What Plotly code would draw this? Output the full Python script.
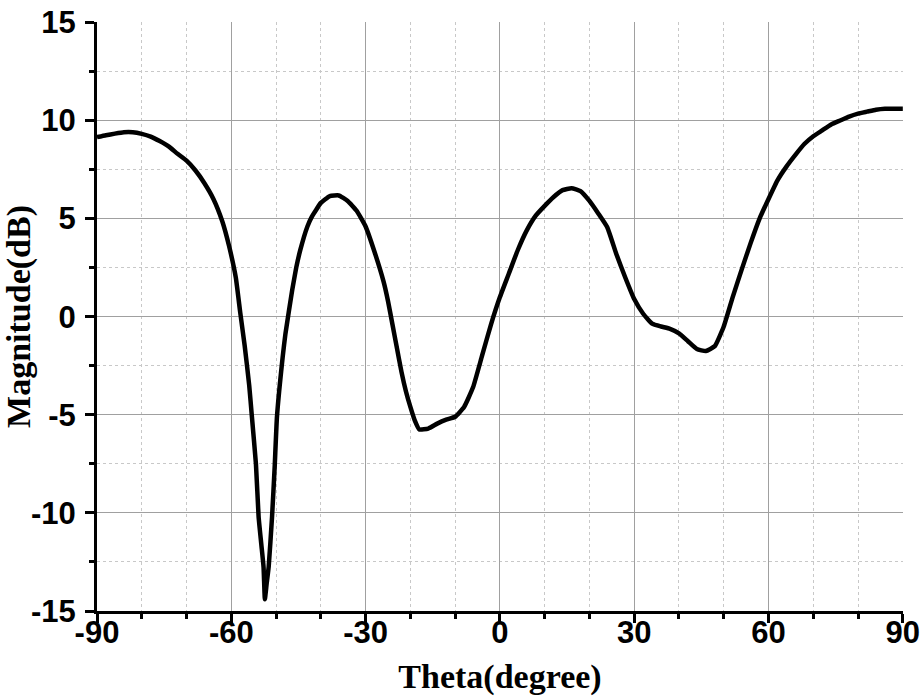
import plotly.graph_objects as go

theta = [-90, -88, -86, -84, -82, -80, -78, -76, -74, -72, -70, -68, -66, -64, -62,
         -60.5, -59, -58, -57, -56, -55.4, -54.5, -53.9, -53.3, -52.8, -52.5,
         -52.1, -51.65, -50.9, -50.3, -49.8, -48.5, -47.9, -46.4, -45.5, -44.6,
         -43, -42, -40, -38, -36, -34, -32, -30, -28, -26, -25, -24, -23, -22,
         -21, -20, -19, -18, -16, -14, -12, -10, -8, -6, -4, -2, 0, 2, 4, 6, 8,
         10, 12, 14, 16, 18, 20, 22, 24, 26, 28, 30, 32, 34, 36, 38, 40, 42,
         44, 46, 48, 50, 52, 54, 56, 58, 60, 62, 64, 66, 68, 70, 72, 74, 76,
         78, 80, 82, 84, 86, 88, 90]
magnitude = [9.15, 9.25, 9.33, 9.40, 9.40, 9.32, 9.18, 8.95, 8.68, 8.30, 7.95, 7.45,
             6.80, 6.00, 4.85, 3.6, 2.0, 0.2, -1.5, -3.5, -5.1, -7.5, -10.2, -11.6,
             -12.75, -14.4, -13.6, -12.75, -10.2, -7.6, -5.1, -2.0, -0.86, 1.35,
             2.5, 3.39, 4.6, 5.1, 5.8, 6.15, 6.18, 5.9, 5.4, 4.6, 3.3, 1.8, 0.8,
             -0.4, -1.6, -2.8, -3.8, -4.6, -5.3, -5.75, -5.7, -5.45, -5.25, -5.1,
             -4.6, -3.6, -2.0, -0.4, 1.0, 2.2, 3.4, 4.4, 5.15, 5.65, 6.1, 6.45,
             6.55, 6.4, 5.9, 5.25, 4.55, 3.2, 2.0, 0.9, 0.15, -0.35, -0.5, -0.62,
             -0.85, -1.25, -1.65, -1.75, -1.5, -0.5, 1.0, 2.4, 3.75, 5.0, 6.0,
             6.95, 7.65, 8.25, 8.8, 9.2, 9.5, 9.8, 10.0, 10.2, 10.35, 10.45,
             10.55, 10.6, 10.6, 10.6]

x_ticks = [-90, -60, -30, 0, 30, 60, 90]
y_ticks = [-15, -10, -5, 0, 5, 10, 15]
x_grid = [-60, -30, 0, 30, 60]
y_grid = [-10, -5, 0, 5, 10]
x_minor_grid = [-80, -70, -50, -40, -20, -10, 10, 20, 40, 50, 70, 80]
y_minor_grid = [-12.5, -7.5, -2.5, 2.5, 7.5, 12.5]

X_RANGE = [-90, 90.04]
Y_RANGE = [-15, 15.02]

fig = go.Figure()
# invisible trace anchoring the labelled axes
fig.add_trace(go.Scatter(x=theta, y=magnitude, mode="lines", opacity=0,
                         hoverinfo="skip", showlegend=False, xaxis="x", yaxis="y"))
# visible curve on the overlay (grid) axes so it sits above the grid
fig.add_trace(go.Scatter(x=theta, y=magnitude, mode="lines",
                         line=dict(color="black", width=4.5, shape="spline", smoothing=0.4),
                         showlegend=False, xaxis="x2", yaxis="y2"))

tickfont = dict(family="Liberation Sans, Arial", size=31, weight="bold", color="black")
titlefont = dict(family="Liberation Serif, Times New Roman", size=34, weight="bold", color="black")

fig.update_layout(
    width=924, height=698,
    margin=dict(l=97, r=21, t=22, b=87),
    plot_bgcolor="white", paper_bgcolor="white",
    xaxis=dict(
        range=X_RANGE, tickvals=x_ticks, ticktext=[str(v) for v in x_ticks],
        showline=True, linecolor="black", linewidth=3,
        ticks="outside", ticklen=9, tickwidth=3, tickcolor="black",
        showgrid=False, zeroline=False, automargin=False,
        minor=dict(dtick=10, tick0=0, ticks="outside", ticklen=5, tickwidth=2.5,
                   tickcolor="black", showgrid=False),
        tickfont=tickfont, ticklabelstandoff=-17, ticklabeloverflow="allow",
        title=dict(text="Theta(degree)", font=titlefont, standoff=15),
    ),
    yaxis=dict(
        range=Y_RANGE, tickvals=y_ticks, ticktext=[str(v) for v in y_ticks],
        showline=True, linecolor="black", linewidth=3,
        ticks="outside", ticklen=9, tickwidth=3, tickcolor="black",
        showgrid=False, zeroline=False, automargin=False,
        minor=dict(dtick=2.5, tick0=0, ticks="outside", ticklen=5, tickwidth=2.5,
                   tickcolor="black", showgrid=False),
        tickfont=tickfont, ticklabelstandoff=3, ticklabeloverflow="allow",
        title=dict(text="Magnitude(dB)", font=titlefont, standoff=0),
    ),
    xaxis2=dict(
        range=X_RANGE, overlaying="x", anchor="y2", side="bottom",
        tickvals=x_grid, showticklabels=False, ticks="",
        showgrid=True, gridcolor="#a0a0a0", gridwidth=1, zeroline=False,
        showline=False, automargin=False,
        minor=dict(tickvals=x_minor_grid, ticks="", showgrid=True,
                   gridcolor="#c8c8c8", griddash="dot", gridwidth=1),
    ),
    yaxis2=dict(
        range=Y_RANGE, overlaying="y", anchor="x2", side="left",
        tickvals=y_grid, showticklabels=False, ticks="",
        showgrid=True, gridcolor="#a0a0a0", gridwidth=1, zeroline=False,
        showline=False, automargin=False,
        minor=dict(tickvals=y_minor_grid, ticks="", showgrid=True,
                   gridcolor="#c8c8c8", griddash="dot", gridwidth=1),
    ),
)

fig.write_html("out.html", config={"displayModeBar": False},
               post_script="document.body.style.margin='0';document.body.style.overflow='hidden';")
